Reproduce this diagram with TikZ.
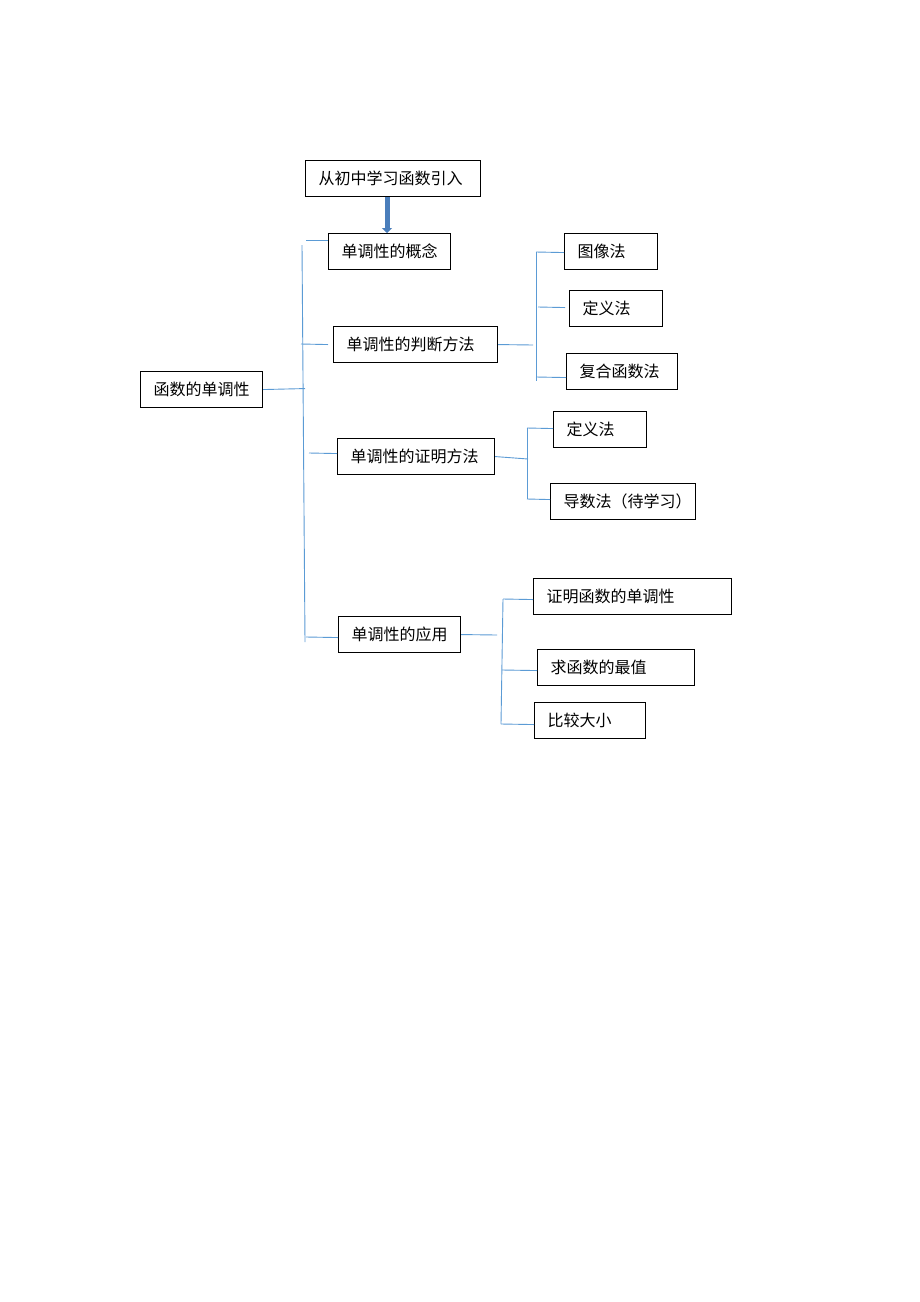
\documentclass[tikz,border=0pt]{standalone}
\usepackage{fontspec}
\setmainfont{Liberation Serif}
\newfontfamily\cjk{Noto Sans CJK SC}
\usetikzlibrary{arrows.meta,calc}
\definecolor{lb}{HTML}{5B9BD5}
\definecolor{ab}{HTML}{4A7EBB}
\begin{document}
\begin{tikzpicture}[x=1pt,y=-1pt,
 box/.style={draw=black, line width=1.1pt, anchor=north west, minimum height=36pt,
   inner xsep=13pt, inner ysep=0pt, align=left, text height=13pt, text depth=1.5pt,
   font=\cjk\fontsize{16}{19}\selectfont},
 con/.style={draw=lb, line width=0.9pt}]
\useasboundingbox (0,0) rectangle (920,1302);
\fill[white] (0,0) rectangle (920,1302);

% boxes
\node[box, text width=149pt] (top)  at (305,160) {从初中学习函数引入};
\node[box, text width=96pt]  (gn)   at (328,233) {单调性的概念};
\node[box, text width=96pt]  (root) at (140,371) {函数的单调性};
\node[box, text width=138pt] (pd)   at (333,326) {单调性的判断方法};
\node[box, text width=67pt]  (txf)  at (564,233) {图像法};
\node[box, text width=67pt]  (dyf1) at (569,290) {定义法};
\node[box, text width=85pt]  (fh)   at (566,353) {复合函数法};
\node[box, text width=131pt] (zm)   at (337,438) {单调性的证明方法};
\node[box, text width=67pt]  (dyf2) at (553,411) {定义法};
\node[box, text width=119pt] (ds)   at (550,483) {\hbox to 119pt{导数法（待学习）\hss}};
\node[box, text width=96pt]  (yy)   at (338,616) {单调性的应用};
\node[box, text width=172pt] (zmhs) at (533,578) {证明函数的单调性};
\node[box, text width=131pt] (zz)   at (537,649) {求函数的最值};
\node[box, text width=85pt]  (bj)   at (534,702) {比较大小};

% arrow
\coordinate (ax) at (387,0);
\draw[ab, line width=5pt, -{Triangle[width=10pt,length=5pt]}]
  (top.south -| ax) -- (gn.north -| ax);

% trunk
\coordinate (t1) at (302,245);
\coordinate (t2) at (305,642);
\draw[con] (t1) -- (t2);
\coordinate (tg) at (306,240);
\draw[con] (tg) -- (tg -| gn.west);
\draw[con] (root.east) -- ($(root.east -| t2)+(0,-1)$);
\coordinate (tp) at (301,344);
\draw[con] (tp) -- ($(pd.west)+(-5,0)$);
\coordinate (tz) at (309,453);
\draw[con] (tz) -- ($(zm.west)+(0,-3)$);
\coordinate (ty) at (306,637);
\draw[con] (ty) -- ($(yy.west)+(0,3)$);

% judgement bracket
\coordinate (p0) at (533,345);
\coordinate (pa) at (536,252);
\coordinate (pb) at (536,381);
\draw[con] (pd.east) -- (p0);
\draw[con] (pa) -- (pb);
\draw[con] (pa) -- ($(txf.west)+(0,1)$);
\coordinate (pc) at (538,307);
\draw[con] (pc) -- ($(dyf1.west)+(-4,-1)$);
\coordinate (pd2) at (536,377);
\draw[con] (pd2) -- ($(fh.west)+(0,6)$);

% proof bracket
\coordinate (z0) at (528,459);
\coordinate (za) at (527,428);
\coordinate (zb) at (527,499);
\draw[con] (zm.east) -- (z0);
\draw[con] (za) -- (zb);
\draw[con] (za) -- ($(dyf2.west)+(0,-1)$);
\draw[con] (zb) -- ($(ds.west)+(0,-2)$);

% application bracket
\coordinate (y0) at (497,635);
\coordinate (ya) at (503,599);
\coordinate (yb) at (501,724);
\coordinate (yc) at (502,670);
\draw[con] (yy.east) -- (y0);
\draw[con] (ya) -- (yb);
\draw[con] (ya) -- ($(zmhs.west)+(0,3)$);
\draw[con] (yc) -- ($(zz.west)+(0,3)$);
\draw[con] (yb) -- ($(bj.west)+(0,4)$);
\end{tikzpicture}
\end{document}
